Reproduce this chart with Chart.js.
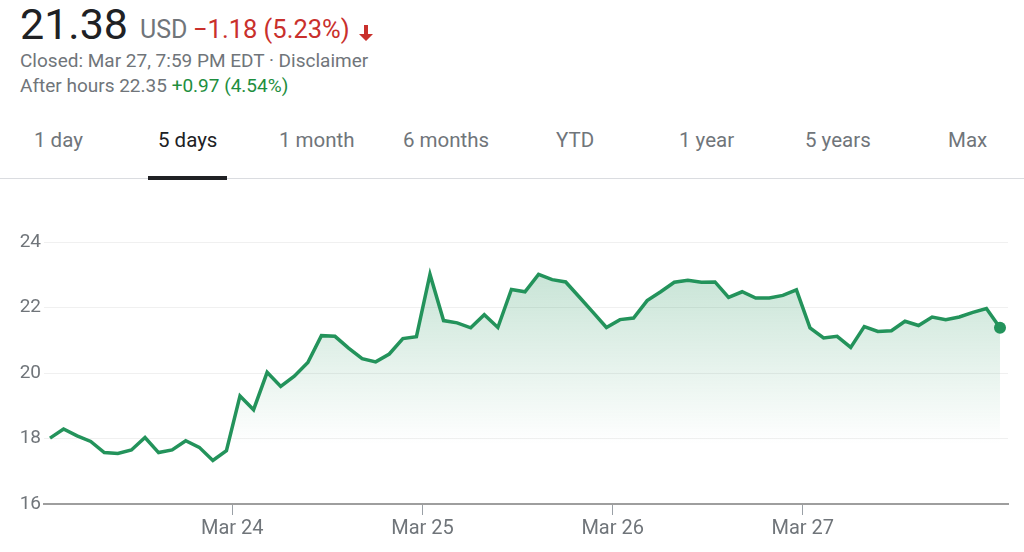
<!DOCTYPE html>
<html>
<head>
<meta charset="utf-8">
<script src="https://cdn.jsdelivr.net/npm/chart.js@4.4.1/dist/chart.umd.min.js"></script>
<style>
  body { margin: 0; width: 1024px; height: 552px; background: #fff; font-family: Roboto, "Noto Sans", sans-serif; position: relative; overflow: hidden; }
  .t { position: absolute; white-space: nowrap; }
  .tab { position: absolute; top: 130px; font-size: 20.5px; line-height: 20.5px; color: #70757a; white-space: nowrap; }
  #chartBox { position: absolute; left: 0; top: 200px; width: 1024px; height: 352px; }
</style>
</head>
<body>
<div class="t" style="left:20px; top:3px; font-size:43px; line-height:43px; color:#202124;">21.38</div>
<div class="t" style="left:140px; top:17px; font-size:25px; line-height:25px; color:#70757a;">USD</div>
<div class="t" style="left:193px; top:17px; font-size:25.5px; line-height:25.5px; color:#c9302c;">−1.18 (5.23%)</div>
<svg style="position:absolute; left:357px; top:24px;" width="18" height="18" viewBox="0 0 18 18">
  <path d="M7 1h4v9h5l-7 7-7-7h5z" fill="#c9302c"/>
</svg>
<div class="t" style="left:20px; top:51px; font-size:19px; line-height:19px; color:#70757a;">Closed: Mar 27, 7:59 PM EDT · Disclaimer</div>
<div class="t" style="left:20px; top:76px; font-size:19px; line-height:19px; color:#70757a;">After hours 22.35 <span style="color:#1e8e3e;">+0.97 (4.54%)</span></div>

<div class="tab" style="left:34px;">1 day</div>
<div class="tab" style="left:158px; color:#202124;">5 days</div>
<div class="tab" style="left:279px;">1 month</div>
<div class="tab" style="left:403px;">6 months</div>
<div class="tab" style="left:556px;">YTD</div>
<div class="tab" style="left:679px;">1 year</div>
<div class="tab" style="left:805px;">5 years</div>
<div class="tab" style="left:948px;">Max</div>
<div style="position:absolute; left:0; top:178px; width:1024px; height:1px; background:#dadce0;"></div>
<div style="position:absolute; left:148px; top:176px; width:79px; height:4px; background:#202124;"></div>

<div id="chartBox"><canvas id="priceChart" width="1024" height="352"></canvas></div>

<script>
  // 5 days of prices, one point every half hour
  const prices = [
    18.01, 18.29, 18.08, 17.91, 17.57, 17.54, 17.65, 18.03, 17.57, 17.65,
    17.93, 17.73, 17.33, 17.63, 19.30, 18.88, 20.02, 19.59, 19.90, 20.32,
    21.14, 21.12, 20.76, 20.44, 20.34, 20.58, 21.05, 21.11, 23.01, 21.60,
    21.53, 21.38, 21.78, 21.39, 22.55, 22.48, 23.01, 22.85, 22.78, 22.32,
    21.86, 21.39, 21.63, 21.68, 22.21, 22.48, 22.77, 22.83, 22.77, 22.78,
    22.31, 22.48, 22.29, 22.29, 22.37, 22.54, 21.38, 21.07, 21.12, 20.78,
    21.42, 21.27, 21.29, 21.58, 21.45, 21.71, 21.63, 21.71, 21.85, 21.97,
    21.38
  ];
  const dayLabels = ['Mar 24', 'Mar 25', 'Mar 26', 'Mar 27'];
  const dayTickIndex = [13.43, 27.45, 41.46, 55.47];
  const yTicks = [16, 18, 20, 22, 24];

  const lineColor = '#23935b';
  const greyText = '#70757a';

  const ctx = document.getElementById('priceChart').getContext('2d');
  new Chart(ctx, {
    type: 'line',
    data: {
      datasets: [{
        data: prices.map((p, i) => ({ x: i, y: p })),
        borderColor: lineColor,
        borderWidth: 3.5,
        tension: 0,
        fill: 'start',
        backgroundColor: (c) => {
          const area = c.chart.chartArea;
          if (!area) return 'rgba(35,147,91,0.15)';
          const g = c.chart.ctx.createLinearGradient(0, area.top + 30, 0, area.bottom - 60);
          g.addColorStop(0, 'rgba(35,147,91,0.25)');
          g.addColorStop(1, 'rgba(35,147,91,0)');
          return g;
        },
        pointRadius: (c) => c.dataIndex === prices.length - 1 ? 6 : 0,
        pointBackgroundColor: lineColor,
        pointBorderWidth: 0
      }]
    },
    options: {
      responsive: false,
      animation: false,
      devicePixelRatio: 1,
      layout: { padding: { top: 42, right: 16, left: 0, bottom: 0 } },
      plugins: { legend: { display: false }, tooltip: { enabled: false } },
      scales: {
        x: {
          type: 'linear',
          min: -0.442,
          max: 70.59,
          afterFit: (s) => { s.height = 48; },
          afterBuildTicks: (s) => { s.ticks = dayTickIndex.map(v => ({ value: v })); },
          grid: { drawOnChartArea: false, drawTicks: true, tickLength: 11, color: '#9aa0a6' },
          border: { display: true, color: '#9e9e9e', width: 2 },
          ticks: {
            autoSkip: false,
            maxRotation: 0,
            padding: 2,
            color: greyText,
            font: { family: 'Roboto', size: 20 },
            callback: (v, i) => dayLabels[i]
          }
        },
        y: {
          min: yTicks[0],
          max: yTicks[yTicks.length - 1],
          afterFit: (s) => { s.width = 44; },
          afterBuildTicks: (s) => { s.ticks = yTicks.map(v => ({ value: v })); },
          grid: { color: '#f0f0f0', drawTicks: false },
          border: { display: false },
          ticks: {
            padding: 3,
            color: greyText,
            font: { family: 'Roboto', size: 19 }
          }
        }
      }
    }
  });
</script>
</body>
</html>
